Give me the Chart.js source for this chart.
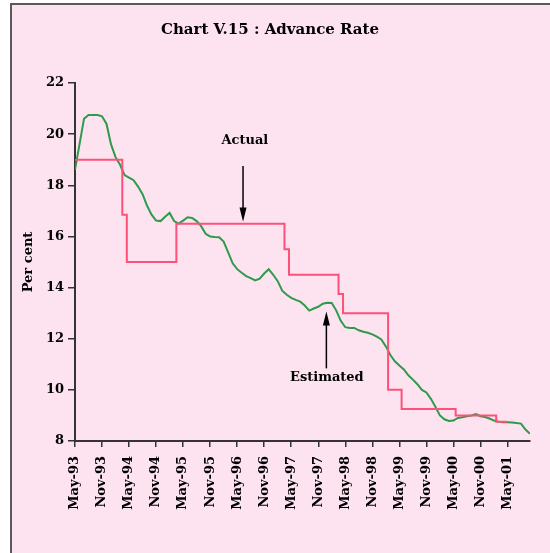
<!DOCTYPE html>
<html>
<head>
<meta charset="utf-8">
<script src="https://cdn.jsdelivr.net/npm/chart.js@4.4.1/dist/chart.umd.min.js"></script>
<style>
  html, body { margin: 0; background: #fff; overflow: hidden; width: 550px; height: 553px; }
  #frame {
    position: absolute; left: 10px; top: 3px; right: 0; bottom: 0;
    border-left: 2px solid #5a5a5a; border-top: 2px solid #5a5a5a;
    background-color: #fce3ef;
  }
  #wrap { position: absolute; left: 0; top: 0; width: 550px; height: 553px; }
</style>
</head>
<body>
<div id="frame"></div>
<div id="wrap"><canvas id="rateChart" width="550" height="553"></canvas></div>
<script>
// Tick labels every six months, May-93 .. May-01 (x = month index from May-93)
const tickLabels = ['May-93', 'Nov-93', 'May-94', 'Nov-94', 'May-95', 'Nov-95', 'May-96', 'Nov-96',
                    'May-97', 'Nov-97', 'May-98', 'Nov-98', 'May-99', 'Nov-99', 'May-00', 'Nov-00', 'May-01'];

// Actual advance rate, monthly from May-93 to May-01
const actual = [
    19, 19, 19, 19, 19, 19, 19, 19, 19, 19, 19,
    16.85,
    15, 15, 15, 15, 15, 15, 15, 15, 15, 15, 15,
    16.5, 16.5, 16.5, 16.5, 16.5, 16.5, 16.5, 16.5, 16.5, 16.5, 16.5, 16.5,
    16.5, 16.5, 16.5, 16.5, 16.5, 16.5, 16.5, 16.5, 16.5, 16.5, 16.5, 16.5,
    15.5,
    14.5, 14.5, 14.5, 14.5, 14.5, 14.5, 14.5, 14.5, 14.5, 14.5, 14.5,
    13.75,
    13, 13, 13, 13, 13, 13, 13, 13, 13, 13,
    10, 10, 10,
    9.25, 9.25, 9.25, 9.25, 9.25, 9.25, 9.25, 9.25, 9.25, 9.25, 9.25, 9.25,
    9, 9, 9, 9, 9, 9, 9, 9, 9,
    8.75, 8.75, 8.75
];

// Estimated advance rate, monthly from May-93 to Oct-01
const estimated = [
    18.6, 19.6, 20.6, 20.75, 20.75, 20.75, 20.7, 20.4, 19.6, 19.1,
    18.8, 18.4, 18.3, 18.2, 17.95, 17.65, 17.2, 16.85, 16.62, 16.6,
    16.77, 16.92, 16.6, 16.5, 16.62, 16.75, 16.72, 16.6, 16.4, 16.1,
    16.0, 15.98, 15.97, 15.8, 15.38, 14.95, 14.72, 14.58, 14.45, 14.37,
    14.28, 14.35, 14.55, 14.72, 14.5, 14.25, 13.88, 13.72, 13.6, 13.52,
    13.45, 13.3, 13.1, 13.18, 13.25, 13.37, 13.41, 13.4, 13.1, 12.7,
    12.45, 12.42, 12.42, 12.33, 12.27, 12.23, 12.17, 12.08, 11.97, 11.7,
    11.36, 11.12, 10.95, 10.8, 10.57, 10.4, 10.22, 10.0, 9.9, 9.65,
    9.34, 9.0, 8.85, 8.78, 8.8, 8.9, 8.93, 8.97, 9.0, 9.05,
    8.97, 8.94, 8.88, 8.8, 8.75, 8.73, 8.73, 8.72, 8.7, 8.68,
    8.45, 8.28
];

// Callouts, in data units (month index, per cent)
const callouts = [
    { text: 'Actual', textX: 37.7, textY: 19.73, x: 37.3, from: 18.75, to: 16.58 },
    { text: 'Estimated', textX: 55.9, textY: 10.46, x: 55.8, from: 10.84, to: 13.06 }
];

const serif = "'DejaVu Serif', 'Liberation Serif', serif";

const calloutPlugin = {
    id: 'callouts',
    afterDatasetsDraw(chart) {
        const ctx = chart.ctx;
        const xs = chart.scales.x, ys = chart.scales.y;
        ctx.save();
        ctx.fillStyle = '#000';
        ctx.strokeStyle = '#000';
        ctx.font = 'bold 13px ' + serif;
        ctx.textAlign = 'center';
        ctx.textBaseline = 'middle';
        callouts.forEach(c => {
            ctx.fillText(c.text, xs.getPixelForValue(c.textX), ys.getPixelForValue(c.textY));
            const x = xs.getPixelForValue(c.x);
            const y0 = ys.getPixelForValue(c.from);
            const y1 = ys.getPixelForValue(c.to);
            const dir = y1 > y0 ? 1 : -1;
            ctx.lineWidth = 1.5;
            ctx.beginPath();
            ctx.moveTo(x, y0);
            ctx.lineTo(x, y1 - dir * 10);
            ctx.stroke();
            ctx.beginPath();
            ctx.moveTo(x, y1);
            ctx.lineTo(x - 3.5, y1 - dir * 14);
            ctx.lineTo(x + 3.5, y1 - dir * 14);
            ctx.closePath();
            ctx.fill();
        });
        ctx.restore();
    }
};

const rateChart = new Chart(document.getElementById('rateChart'), {
    type: 'line',
    data: {
        datasets: [{
            label: 'Actual',
            data: actual.map((v, i) => ({ x: i, y: v })),
            borderColor: '#ff4f7b',
            borderWidth: 2,
            stepped: 'middle',
            pointRadius: 0,
            fill: false
        }, {
            label: 'Estimated',
            data: estimated.map((v, i) => ({ x: i, y: v })),
            borderColor: '#2f9a4c',
            borderWidth: 2,
            tension: 0,
            pointRadius: 0,
            fill: false
        }]
    },
    options: {
        responsive: false,
        animation: false,
        layout: {
            padding: { left: 10, right: 20, top: 0, bottom: 0 }
        },
        plugins: {
            legend: { display: false },
            tooltip: { enabled: false },
            title: {
                display: true,
                text: 'Chart V.15 : Advance Rate',
                color: '#000',
                font: { family: serif, size: 15, weight: 'bold' },
                padding: { top: 21, bottom: 44 }
            }
        },
        scales: {
            x: {
                type: 'linear',
                min: 0,
                max: 101,
                afterFit(scale) { scale.height = 112; },
                border: { color: '#333', width: 2 },
                grid: { drawOnChartArea: false, drawTicks: true, tickLength: 6, color: '#333', lineWidth: 1.5 },
                ticks: {
                    stepSize: 6,
                    includeBounds: false,
                    autoSkip: false,
                    maxRotation: 90,
                    minRotation: 90,
                    padding: 9,
                    color: '#000',
                    font: { family: serif, size: 13, weight: 'bold' },
                    callback: (v) => tickLabels[v / 6]
                }
            },
            y: {
                min: 8,
                max: 22,
                afterFit(scale) { scale.width = 65; },
                border: { color: '#333', width: 2 },
                grid: { drawOnChartArea: false, drawTicks: true, tickLength: 7, color: '#333', lineWidth: 1.5 },
                ticks: {
                    stepSize: 2,
                    padding: 4,
                    color: '#000',
                    font: { family: serif, size: 13, weight: 'bold' }
                },
                title: {
                    display: true,
                    text: 'Per cent',
                    color: '#000',
                    font: { family: serif, size: 13, weight: 'bold' },
                    padding: { top: 11, bottom: 0 }
                }
            }
        }
    },
    plugins: [calloutPlugin]
});
</script>
</body>
</html>
